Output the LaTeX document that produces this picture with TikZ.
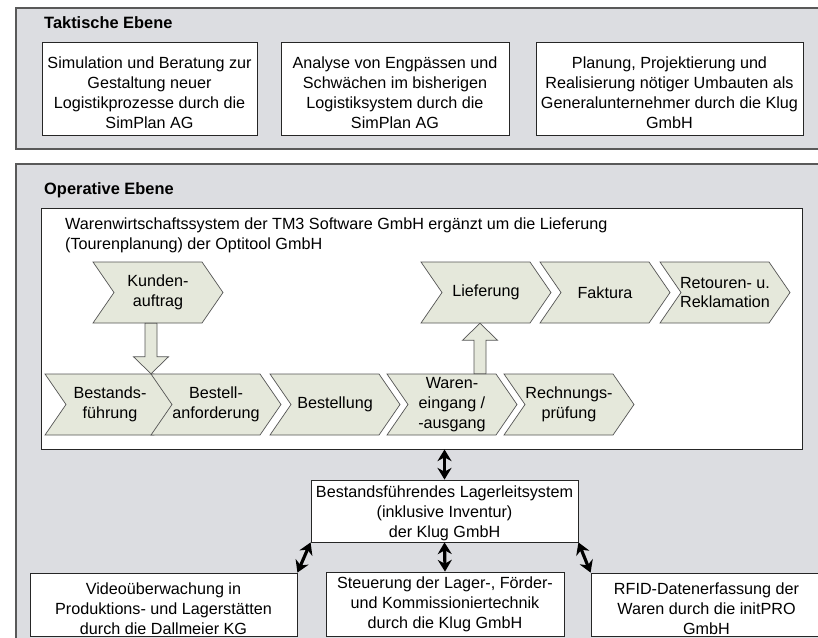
\documentclass[tikz,border=0pt]{standalone}
\usepackage{fontspec}
\setmainfont{Liberation Sans}
\usetikzlibrary{arrows.meta,calc}

\definecolor{ebenegrau}{RGB}{220,221,225}
\definecolor{prozessgruen}{RGB}{229,232,219}
\definecolor{prozessrand}{RGB}{85,85,85}

\tikzset{
  ebene/.style={fill=ebenegrau, draw=black!65, line width=1pt},
  kasten/.style={draw=black!85, fill=white, line width=0.7pt, align=center, inner sep=0pt},
  kastentext/.style={align=center, inner sep=0pt},
  titel/.style={font=\bfseries\fontsize{14}{17}\selectfont, anchor=west, inner sep=0pt},
  prozess/.style={draw=prozessrand, fill=prozessgruen, line width=0.6pt},
  prozesstext/.style={minimum width=3.9cm, minimum height=1.83cm, align=center, inner sep=0pt},
  pfeil/.style={draw=prozessrand, fill=prozessgruen, line width=0.6pt},
  verbindung/.style={line width=2.7pt, >={Stealth[length=10pt,width=12pt]}, <->}
}

% Prozessschritt: Name, x links oben, y oben, Text
\newcommand{\prozessschritt}[4]{%
  \draw[prozess] (#2,#3) -- ++(109,0) -- ++(21,30.5) -- ++(-21,30.5) -- ++(-109,0) -- ++(21,-30.5) -- cycle;
  \node[prozesstext] (#1) at ({#2+65},{#3+30.5}) {#4};
}
% Blockpfeil: Anfang, Spitze
\newcommand{\blockpfeil}[2]{%
  \coordinate (bpH) at ($(#2)!0.51cm!(#1)$);
  \draw[pfeil] ($(#1)!0.18cm!90:(#2)$) -- ($(bpH)!0.18cm!90:(#2)$) -- ($(bpH)!0.525cm!90:(#2)$) -- (#2)
    -- ($(bpH)!0.525cm!-90:(#2)$) -- ($(bpH)!0.18cm!-90:(#2)$) -- ($(#1)!0.18cm!-90:(#2)$) -- cycle;
}

\begin{document}
\begin{tikzpicture}[x=0.03cm, y=-0.03cm, font=\fontsize{13.8}{17}\selectfont]
%\draw[step=10,gray!30,very thin] (0,0) grid (818,637);
\useasboundingbox (0,0) rectangle (818,637);
\clip (0,0) rectangle (818,637);

% Taktische Ebene
\draw[ebene] (16,8) rectangle (840,149);
\node[titel] (taktik) at (44,23) {Taktische Ebene};
\node[kasten, minimum width=6.45cm, minimum height=2.79cm] (simulation) at (149.5,88.5) {};
\node[kastentext] (simulationtext) at ($(simulation.center)+(0,4.5)$) {Simulation und Beratung zur\\Gestaltung neuer\\Logistikprozesse durch die\\SimPlan AG};
\node[kasten, minimum width=6.84cm, minimum height=2.79cm] (analyse) at (395,88.5) {};
\node[kastentext] (analysetext) at ($(analyse.center)+(0,4.5)$) {Analyse von Engpässen und\\Schwächen im bisherigen\\Logistiksystem durch die\\SimPlan AG};
\node[kasten, minimum width=8.01cm, minimum height=2.79cm] (planung) at (669.5,88.5) {};
\node[kastentext] (planungtext) at ($(planung.center)+(0,4.5)$) {Planung, Projektierung und\\Realisierung nötiger Umbauten als\\Generalunternehmer durch die Klug\\GmbH};

% Operative Ebene
\draw[ebene] (16,164) rectangle (840,660);
\node[titel] (operativ) at (44,190) {Operative Ebene};
\node[kasten, minimum width=22.83cm, minimum height=7.23cm] (wws) at (421.5,328.5) {};
\node[anchor=north west, align=left, inner sep=0pt] (wwstitel) at (65,218) {Warenwirtschaftssystem der TM3 Software GmbH ergänzt um die Lieferung\\(Tourenplanung) der Optitool GmbH};

\prozessschritt{kunden}{93}{262}{Kunden-\\auftrag}
\prozessschritt{lieferung}{421}{262}{Lieferung}
\prozessschritt{faktura}{540}{262}{Faktura}
\prozessschritt{retouren}{660}{262}{Retouren- u.\\Reklamation}
\prozessschritt{bestands}{45}{374}{Bestands-\\führung}
\prozessschritt{bestell}{151}{374}{Bestell-\\anforderung}
\prozessschritt{bestellung}{270}{374}{Bestellung}
\prozessschritt{waren}{387}{374}{Waren-\\eingang /\\-ausgang}
\prozessschritt{rechnung}{504}{374}{Rechnungs-\\prüfung}

\coordinate (k1) at ($(kunden.south)+(-7,0)$);
\coordinate (k2) at (k1 |- bestands.north);
\blockpfeil{k1}{k2}
\coordinate (w1) at ($(lieferung.south)+(-6,0)$);
\coordinate (w2) at (w1 |- waren.north);
\blockpfeil{w2}{w1}

\node[kasten, minimum width=8.01cm, minimum height=1.86cm] (lager) at (444.5,511) {};
\node[kastentext] (lagertext) at ($(lager.center)+(0,2.5)$) {Bestandsführendes Lagerleitsystem\\(inklusive Inventur)\\der Klug GmbH};
\node[kasten, minimum width=8.01cm, minimum height=1.89cm] (video) at (163.5,604.5) {};
\node[kastentext] (videotext) at ($(video.center)+(0,4)$) {Videoüberwachung in\\Produktions- und Lagerstätten\\durch die Dallmeier KG};
\node[kasten, minimum width=7.14cm, minimum height=1.92cm] (steuerung) at (445,604) {};
\node[kastentext] (steuerungtext) at (steuerung.center) {Steuerung der Lager-, Förder-\\und Kommissioniertechnik\\durch die Klug GmbH};
\node[kasten, minimum width=6.93cm, minimum height=1.89cm] (rfid) at (706.5,604.5) {};
\node[kastentext] (rfidtext) at ($(rfid.center)+(0,4)$) {RFID-Datenerfassung der\\Waren durch die initPRO\\GmbH};

\draw[verbindung] (lager.north) -- (lager.north |- wws.south);
\draw[verbindung] (lager.south west) -- (video.north east);
\draw[verbindung] (lager.south) -- (steuerung.north);
\draw[verbindung] (lager.south east) -- (rfid.north west);
\end{tikzpicture}
\end{document}
